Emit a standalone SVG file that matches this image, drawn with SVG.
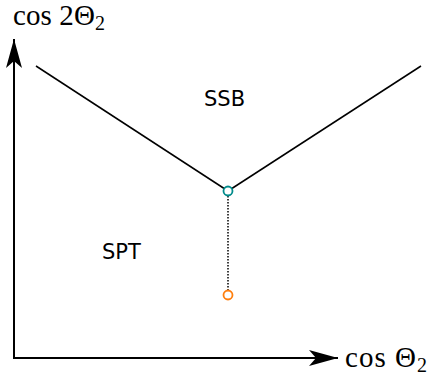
<svg xmlns="http://www.w3.org/2000/svg" width="428" height="382" viewBox="0 0 428 382">
<style>
.lbl{font-family:"DejaVu Sans","Noto Sans",sans-serif;font-size:21px;fill:#000}
.math{font-family:"Liberation Serif","DejaVu Serif",serif;font-size:29px;fill:#000}
.sub{font-size:20px}
</style>
<defs>
<marker id="ah" markerWidth="30" markerHeight="20" refX="29" refY="10" orient="auto" markerUnits="userSpaceOnUse">
<path d="M0,2 L29,10 L0,18 L7,10 Z" fill="#000"/>
</marker>
</defs>
<rect width="428" height="382" fill="#fff"/>
<g id="axes" stroke="#000" stroke-width="2" fill="none">
<line x1="14" y1="359" x2="14" y2="39" marker-end="url(#ah)"/>
<line x1="13" y1="358" x2="338" y2="358" marker-end="url(#ah)"/>
</g>
<g id="connectors" fill="none">
<line x1="36" y1="66" x2="228" y2="191" stroke="#000" stroke-width="1.5"/>
<line x1="228" y1="191" x2="421" y2="66" stroke="#000" stroke-width="1.5"/>
<line x1="228" y1="196" x2="228" y2="290" stroke="#000" stroke-width="1.5" stroke-dasharray="1.5,1.5"/>
</g>
<g id="node-critical"><circle cx="228" cy="191" r="4.5" fill="#fff" stroke="#008b8b" stroke-width="1.8"/></g>
<g id="node-lower"><circle cx="228" cy="295" r="4.5" fill="#fff" stroke="#ff7f0e" stroke-width="1.8"/></g>
<g id="label-ssb"><text class="lbl" x="204" y="106">SSB</text></g>
<g id="label-spt"><text class="lbl" x="102" y="259">SPT</text></g>
<g id="label-y"><text class="math" x="13" y="25" textLength="92">cos 2Θ<tspan class="sub" dy="5">2</tspan></text></g>
<g id="label-x"><text class="math" x="345" y="367" textLength="82">cos Θ<tspan class="sub" dy="5">2</tspan></text></g>
</svg>
